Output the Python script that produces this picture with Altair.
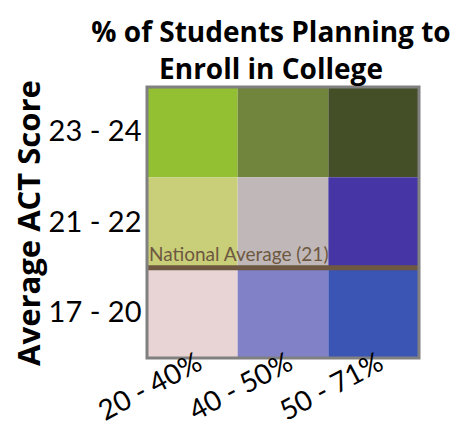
import altair as alt
import pandas as pd

cols = ["20 - 40%", "40 - 50%", "50 - 71%"]
rows = ["23 - 24", "21 - 22", "17 - 20"]
colors = [
    ["#93BF32", "#71853D", "#454F27"],
    ["#C9CF78", "#C0B8B8", "#4535A5"],
    ["#E8D4D4", "#8181C8", "#3B55B5"],
]
avg_row = "17 - 20"
avg_label = "National Average (21)"

recs = []
for i, r in enumerate(rows):
    for j, c in enumerate(cols):
        recs.append({"act": r, "pct": c, "color": colors[i][j]})
df = pd.DataFrame(recs)
avg_df = pd.DataFrame([{"act": avg_row, "pct": cols[0], "label": avg_label}])

font = "Lato"
bold_font = "Open Sans"
W, H = 272, 271

x = alt.X("pct:N", sort=cols, title=None,
          scale=alt.Scale(paddingInner=0, paddingOuter=0),
          axis=alt.Axis(labelAngle=-28, labelAlign="right", labelBaseline="middle",
                        labelFontSize=28, labelFont=font, labelColor="#000",
                        ticks=False, domain=False, labelPadding=3, labelOffset=8))
y = alt.Y("act:N", sort=rows, title="Average ACT Score",
          scale=alt.Scale(paddingInner=0, paddingOuter=0),
          axis=alt.Axis(labelFontSize=29, labelFont=font, labelColor="#000",
                        ticks=False, domain=False, labelPadding=6,
                        titleFontSize=31, titleFont=bold_font, titleFontWeight="bold",
                        titleColor="#000", titlePadding=2))

cells = alt.Chart(df).mark_rect().encode(
    x=x, y=y, color=alt.Color("color:N", scale=None)
)

rule = alt.Chart(avg_df).mark_rule(color="#6E5842", strokeWidth=5).encode(
    y=alt.Y("act:N", sort=rows, bandPosition=0),
)

text = alt.Chart(avg_df).mark_text(
    align="left", baseline="bottom", fontSize=19, font=font,
    color="#6E5842", dx=2, dy=-3
).encode(
    x=alt.X("pct:N", sort=cols, bandPosition=0),
    y=alt.Y("act:N", sort=rows, bandPosition=0),
    text="label:N",
)

frame = alt.Chart(avg_df).mark_rect(filled=False, stroke="#808080", strokeWidth=3).encode(
    x=alt.value(0), x2=alt.value(W), y=alt.value(0), y2=alt.value(H)
)

chart = alt.layer(cells, rule, text, frame).properties(
    width=W, height=H,
    autosize=alt.AutoSizeParams(type="none"),
    padding={"left": 139, "top": 79, "right": 46, "bottom": 68},
    title=alt.TitleParams(
        ["% of Students Planning to", "Enroll in College"],
        fontSize=28, font=bold_font, fontWeight="bold", color="#000",
        anchor="middle", lineHeight=37, offset=8, dx=-12, dy=13,
    ),
).configure_view(stroke=None).configure(background="white")

chart.save("out.html", embed_options={"renderer": "svg", "actions": False})
